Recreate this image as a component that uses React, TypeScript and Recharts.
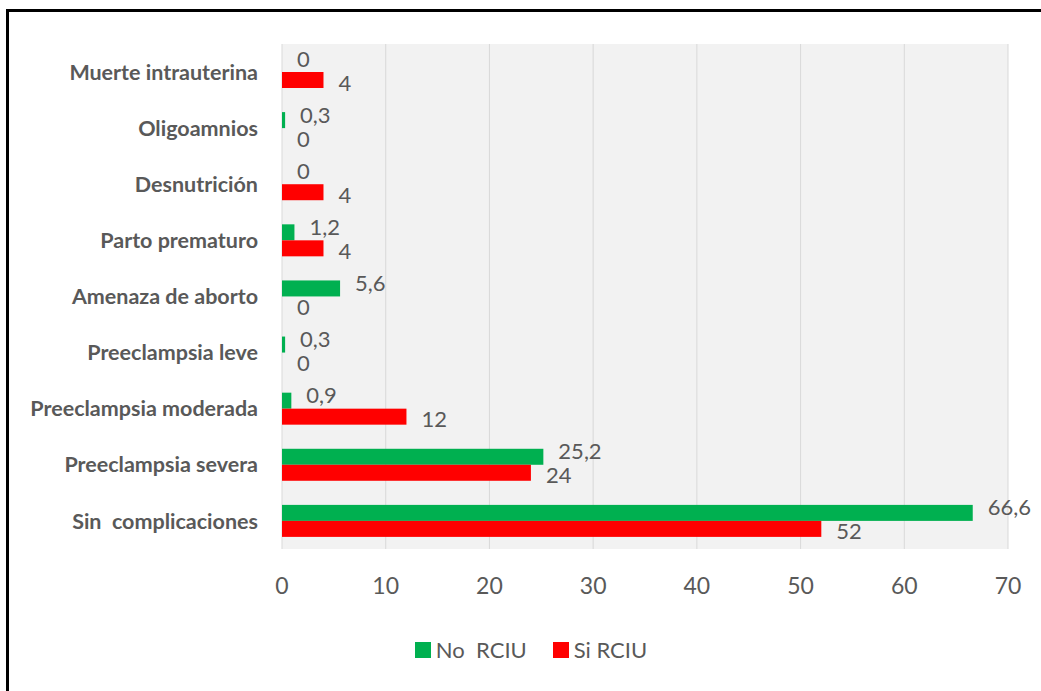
import React from "react";
import { BarChart, Bar, XAxis, YAxis, CartesianGrid, LabelList } from "recharts";

const categories = [
  "Muerte intrauterina",
  "Oligoamnios",
  "Desnutrición",
  "Parto prematuro",
  "Amenaza de aborto",
  "Preeclampsia leve",
  "Preeclampsia moderada",
  "Preeclampsia severa",
  "Sin\u00a0 complicaciones",
];
const noRciu = [0, 0.3, 0, 1.2, 5.6, 0.3, 0.9, 25.2, 66.6];
const siRciu = [4, 0, 4, 4, 0, 0, 12, 24, 52];
const xTicks = [0, 10, 20, 30, 40, 50, 60, 70];

const data = categories.map((name, i) => ({ name, no: noRciu[i], si: siRciu[i] }));

const GREEN = "#00B050";
const RED = "#FF0000";
const TEXT = "#595959";
const FONT = "Lato, 'Open Sans', sans-serif";

const fmt = (v: number) => String(v).replace(".", ",");

// bars of value 0 get a 1px min size so their labels exist; don't paint them
const BarShape = (props: any) => {
  const { x, y, width, height, fill, value } = props;
  const v = Array.isArray(value) ? value[1] - value[0] : value;
  if (!v) return null;
  return <rect x={x} y={y} width={width} height={height} fill={fill} />;
};

const makeLabel = (dy: number) => (props: any) => {
  const { x, y, width, height, value } = props;
  const w = value ? Number(width) : 0;
  return (
    <text
      x={Number(x) + w + 15}
      y={Number(y) + Number(height) / 2 + dy}
      fill={TEXT}
      fontSize={22}
      fontFamily={FONT}
      dominantBaseline="central"
    >
      {fmt(value)}
    </text>
  );
};

const legendItems = [
  { label: "No  RCIU", color: GREEN },
  { label: "Si RCIU", color: RED },
];

export default function App() {
  return (
    <div style={{ position: "absolute", left: 0, top: 0, width: 1041, height: 691, background: "#fff", overflow: "hidden" }}>
      <div
        style={{
          position: "absolute",
          left: 6,
          top: 9,
          width: 1100,
          height: 720,
          borderLeft: "3px solid #000",
          borderTop: "3px solid #000",
        }}
      />
      <div style={{ position: "absolute", left: 0, top: 0 }}>
        <BarChart
          width={1041}
          height={691}
          data={data}
          layout="vertical"
          margin={{ top: 44, right: 33, bottom: 82, left: 0 }}
          barSize={16}
          barGap={0}
        >
          <CartesianGrid horizontal={false} fill="#F2F2F2" stroke="#D9D9D9" />
          <XAxis
            type="number"
            domain={[0, 70]}
            ticks={xTicks}
            axisLine={false}
            tickLine={false}
            tickSize={0}
            tickMargin={29}
            height={60}
            tick={{ fill: TEXT, fontSize: 23, fontFamily: FONT }}
          />
          <YAxis
            type="category"
            dataKey="name"
            width={282}
            axisLine={false}
            tickLine={false}
            tickSize={0}
            tickMargin={24}
            interval={0}
            tick={{ fill: TEXT, fontSize: 21.5, fontFamily: FONT, fontWeight: "bold" }}
          />
          <Bar dataKey="no" name="No  RCIU" fill={GREEN} minPointSize={1} shape={BarShape} isAnimationActive={false}>
            <LabelList dataKey="no" content={makeLabel(-6)} />
          </Bar>
          <Bar dataKey="si" name="Si RCIU" fill={RED} minPointSize={1} shape={BarShape} isAnimationActive={false}>
            <LabelList dataKey="si" content={makeLabel(2)} />
          </Bar>
        </BarChart>
      </div>
      <div
        style={{
          position: "absolute",
          left: 0,
          width: 1062,
          top: 636,
          display: "flex",
          justifyContent: "center",
          gap: 26,
          fontFamily: FONT,
          fontSize: 22,
          color: TEXT,
        }}
      >
        {legendItems.map((it) => (
          <div key={it.label} style={{ display: "flex", alignItems: "center" }}>
            <span style={{ display: "inline-block", width: 16, height: 16, background: it.color, marginRight: 5 }} />
            <span style={{ whiteSpace: "pre" }}>{it.label}</span>
          </div>
        ))}
      </div>
    </div>
  );
}
